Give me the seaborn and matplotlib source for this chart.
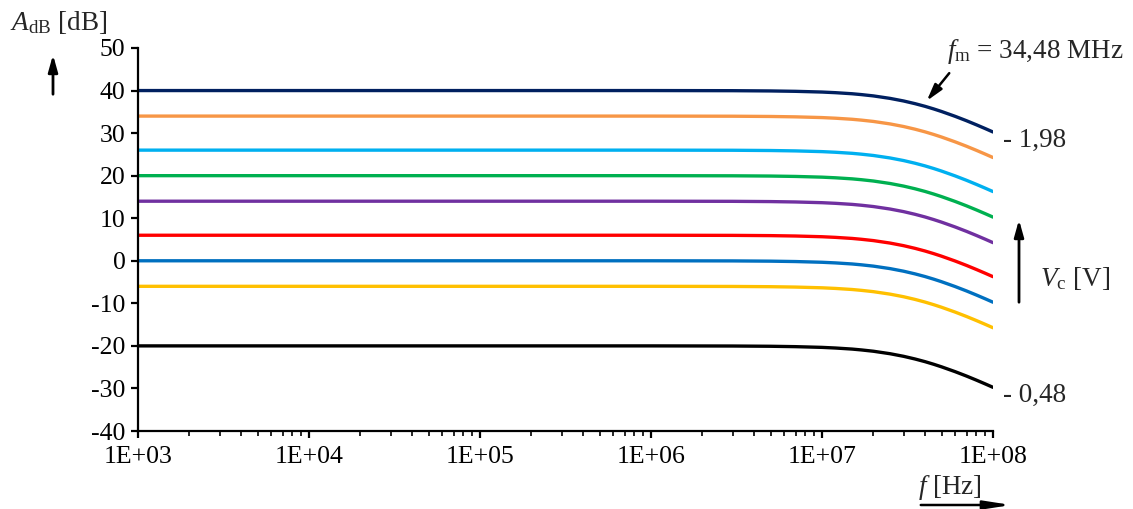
import matplotlib
matplotlib.use("Agg")
import matplotlib.pyplot as plt
import seaborn as sns
import pandas as pd
import numpy as np

# ---- data ----
freq = [1e3, 1e6, 3e6, 5e6, 7e6, 1e7, 1.2e7, 1.5e7, 1.7e7, 2e7, 2.5e7, 3e7, 3.5e7,
        4e7, 4.5e7, 5e7, 6e7, 7e7, 8e7, 9e7, 1e8]
a_40 = [40, 40, 39.97, 39.91, 39.82, 39.65, 39.5, 39.25, 39.05, 38.74, 38.16, 37.55, 36.92,
        36.3, 35.68, 35.08, 33.95, 32.91, 31.95, 31.07, 30.26]
a_34 = [34, 34, 33.97, 33.91, 33.82, 33.65, 33.5, 33.25, 33.05, 32.74, 32.16, 31.55, 30.92,
        30.3, 29.68, 29.08, 27.95, 26.91, 25.95, 25.07, 24.26]
a_26 = [26, 26, 25.97, 25.91, 25.82, 25.65, 25.5, 25.25, 25.05, 24.74, 24.16, 23.55, 22.92,
        22.3, 21.68, 21.08, 19.95, 18.91, 17.95, 17.07, 16.26]
a_20 = [20, 20, 19.97, 19.91, 19.82, 19.65, 19.5, 19.25, 19.05, 18.74, 18.16, 17.55, 16.92,
        16.3, 15.68, 15.08, 13.95, 12.91, 11.95, 11.07, 10.26]
a_14 = [14, 14, 13.97, 13.91, 13.82, 13.65, 13.5, 13.25, 13.05, 12.74, 12.16, 11.55, 10.92,
        10.3, 9.68, 9.08, 7.95, 6.91, 5.95, 5.07, 4.26]
a_6 = [6, 6, 5.97, 5.91, 5.82, 5.65, 5.5, 5.25, 5.05, 4.74, 4.16, 3.55, 2.92,
       2.3, 1.68, 1.08, -0.05, -1.09, -2.05, -2.93, -3.74]
a_0 = [0, 0, -0.03, -0.09, -0.18, -0.35, -0.5, -0.75, -0.95, -1.26, -1.84, -2.45, -3.08,
       -3.7, -4.32, -4.92, -6.05, -7.09, -8.05, -8.93, -9.74]
a_m6 = [-6, -6, -6.03, -6.09, -6.18, -6.35, -6.5, -6.75, -6.95, -7.26, -7.84, -8.45, -9.08,
        -9.7, -10.32, -10.92, -12.05, -13.09, -14.05, -14.93, -15.74]
a_m20 = [-20, -20, -20.03, -20.09, -20.18, -20.35, -20.5, -20.75, -20.95, -21.26, -21.84, -22.45, -23.08,
         -23.7, -24.32, -24.92, -26.05, -27.09, -28.05, -28.93, -29.74]

series_names = ["s40", "s34", "s26", "s20", "s14", "s6", "s0", "sm6", "sm20"]
series_values = [a_40, a_34, a_26, a_20, a_14, a_6, a_0, a_m6, a_m20]
series_colors = ["#002060", "#F79646", "#00B0F0", "#00B050", "#7030A0",
                 "#FF0000", "#0070C0", "#FFC000", "#000000"]

x_ticks = [1e3, 1e4, 1e5, 1e6, 1e7, 1e8]
x_tick_labels = ["1E+03", "1E+04", "1E+05", "1E+06", "1E+07", "1E+08"]
y_ticks = [-40, -30, -20, -10, 0, 10, 20, 30, 40, 50]

rows = []
for name, vals in zip(series_names, series_values):
    for f, v in zip(freq, vals):
        rows.append({"f": f, "A": v, "series": name})
df = pd.DataFrame(rows)

sns.set_style("ticks")
plt.rcParams["font.family"] = ["Liberation Serif", "DejaVu Serif"]
plt.rcParams["mathtext.fontset"] = "custom"
plt.rcParams["mathtext.rm"] = "Liberation Serif"
plt.rcParams["mathtext.it"] = "Liberation Serif:italic"

fig = plt.figure(figsize=(11.33, 5.09), dpi=100)
ax = fig.add_axes([138 / 1133, 1 - 431 / 509, 855 / 1133, 383 / 509])

sns.lineplot(data=df, x="f", y="A", hue="series", hue_order=series_names,
             palette=dict(zip(series_names, series_colors)), linewidth=2.4,
             legend=False, ax=ax, sort=False, solid_capstyle="round")

ax.set_xscale("log")
ax.set_xlim(1e3, 1e8)
ax.set_ylim(-40, 50)
ax.set_xticks(x_ticks)
ax.set_xticklabels(x_tick_labels)
ax.set_yticks(y_ticks)
ax.set_yticklabels([str(v) for v in y_ticks])
ax.xaxis.set_minor_locator(matplotlib.ticker.LogLocator(base=10, subs=np.arange(2, 10)))
ax.xaxis.set_minor_formatter(matplotlib.ticker.NullFormatter())
ax.set_xlabel("")
ax.set_ylabel("")
for s in ["top", "right"]:
    ax.spines[s].set_visible(False)
for s in ["left", "bottom"]:
    ax.spines[s].set_linewidth(1.6)
    ax.spines[s].set_color("black")
ax.tick_params(axis="both", which="major", direction="out", length=5, width=1.6,
               labelsize=18.5, colors="black", pad=6)
ax.tick_params(axis="x", which="minor", direction="out", length=3.5, width=1.4)
ax.tick_params(axis="y", pad=4)

# ---- annotations (figure pixel coords, origin bottom-left) ----
H = 509
FS = 19.5
fig.text(10 / 1133, 1 - 22 / H, r"$A_{\mathrm{dB}}$ [dB]", fontsize=FS, va="center", ha="left")
ax.annotate("", xy=(53, H - 52), xytext=(53, H - 97), xycoords="figure pixels",
            textcoords="figure pixels",
            arrowprops=dict(arrowstyle="-|>,head_length=1.0,head_width=0.28", lw=2, color="black"))

fig.text(947 / 1133, 1 - 52 / H, r"$f_{\mathrm{m}}$ = 34,48 MHz", fontsize=FS, va="center", ha="left")
ax.annotate("", xy=(925, H - 103), xytext=(951, H - 71), xycoords="figure pixels",
            textcoords="figure pixels",
            arrowprops=dict(arrowstyle="-|>,head_length=1.0,head_width=0.28", lw=1.8, color="black"))

fig.text(1003 / 1133, 1 - 140 / H, "- 1,98", fontsize=FS, va="center", ha="left")
fig.text(1003 / 1133, 1 - 395 / H, "- 0,48", fontsize=FS, va="center", ha="left")

fig.text(1040 / 1133, 1 - 278 / H, r"$V_{\mathrm{c}}$ [V]", fontsize=FS, va="center", ha="left")
ax.annotate("", xy=(1019, H - 217), xytext=(1019, H - 305), xycoords="figure pixels",
            textcoords="figure pixels",
            arrowprops=dict(arrowstyle="-|>,head_length=1.0,head_width=0.28", lw=2, color="black"))

fig.text(918 / 1133, 1 - 488 / H, r"$f$ [Hz]", fontsize=FS, va="center", ha="left")
ax.annotate("", xy=(1014, H - 505), xytext=(918, H - 505), xycoords="figure pixels",
            textcoords="figure pixels",
            arrowprops=dict(arrowstyle="-|>,head_length=1.6,head_width=0.25", lw=1.8, color="black"))

fig.savefig("out.png", dpi=100)
